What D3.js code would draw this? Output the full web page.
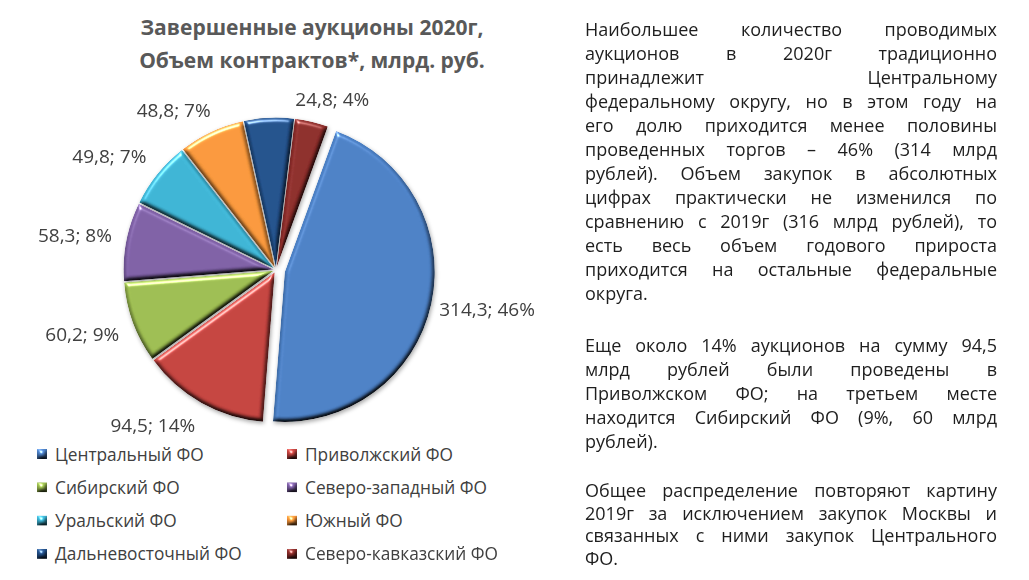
<!DOCTYPE html>
<html><head><meta charset="utf-8">
<script src="https://cdn.jsdelivr.net/npm/d3@7"></script>
<style>body{margin:0;background:#fff;} svg{display:block}</style>
</head><body>
<svg id="c" width="1029" height="580"></svg>
<script>
const categories = ["Центральный ФО","Приволжский ФО","Сибирский ФО","Северо-западный ФО","Уральский ФО","Южный ФО","Дальневосточный ФО","Северо-кавказский ФО"];
const values = [314.3, 94.5, 60.2, 58.3, 49.8, 48.8, 37.0, 24.8];
const labelShown = [true, true, true, true, true, true, false, true];
const colors = ["#4a7ec3","#c2423e","#9bbb4f","#7c5ea3","#3cb2d2","#f7963a","#22508a","#8b2c29"];
const titleLines = ["Завершенные аукционы 2020г,", "Объем контрактов*, млрд. руб."];
const paragraphs = [
  ["Наибольшее количество проводимых",
   "аукционов в 2020г традиционно",
   "принадлежит Центральному",
   "федеральному округу, но в этом году на",
   "его долю приходится менее половины",
   "проведенных торгов – 46% (314 млрд",
   "рублей). Объем закупок в абсолютных",
   "цифрах практически не изменился по",
   "сравнению с 2019г (316 млрд рублей), то",
   "есть весь объем годового прироста",
   "приходится на остальные федеральные",
   "округа."],
  ["Еще около 14% аукционов на сумму 94,5",
   "млрд рублей были проведены в",
   "Приволжском ФО; на третьем месте",
   "находится Сибирский ФО (9%, 60 млрд",
   "рублей)."],
  ["Общее распределение повторяют картину",
   "2019г за исключением закупок Москвы и",
   "связанных с ними закупок Центрального",
   "ФО."]
];

const svg = d3.select("#c");
const defs = svg.append("defs");
defs.html(`
<filter id="bevel" x="-5%" y="-5%" width="110%" height="110%" color-interpolation-filters="sRGB">
  <feGaussianBlur in="SourceAlpha" stdDeviation="2" result="b"/>
  <feDiffuseLighting in="b" surfaceScale="3.5" diffuseConstant="1" lighting-color="#fff" result="d">
    <feDistantLight azimuth="250" elevation="55"/>
  </feDiffuseLighting>
  <feComponentTransfer in="d" result="d2">
    <feFuncR type="linear" slope="1.22"/><feFuncG type="linear" slope="1.22"/><feFuncB type="linear" slope="1.22"/>
  </feComponentTransfer>
  <feComposite in="SourceGraphic" in2="d2" operator="arithmetic" k1="1" k2="0" k3="0" k4="0" result="lit"/>
  <feSpecularLighting in="b" surfaceScale="3.5" specularConstant="0.7" specularExponent="25" lighting-color="#fff" result="s">
    <feDistantLight azimuth="250" elevation="30"/>
  </feSpecularLighting>
  <feComposite in="s" in2="SourceAlpha" operator="in" result="s2"/>
  <feComposite in="lit" in2="s2" operator="arithmetic" k1="0" k2="1" k3="1" k4="0" result="out"/>
  <feComposite in="out" in2="SourceAlpha" operator="in"/>
</filter>
<filter id="shadow" x="-10%" y="-10%" width="120%" height="120%">
  <feGaussianBlur in="SourceAlpha" stdDeviation="2" result="sb"/>
  <feOffset in="sb" dx="1" dy="2" result="so"/>
  <feFlood flood-color="#000" flood-opacity="0.35"/>
  <feComposite in2="so" operator="in" result="sh"/>
  <feMerge><feMergeNode in="sh"/><feMergeNode in="SourceGraphic"/></feMerge>
</filter>`);

// Title
const titleFont = "'Open Sans', sans-serif";
svg.append("g").selectAll("text").data(titleLines).join("text")
  .attr("x", 312).attr("y", (d,i) => 34.5 + i*33)
  .attr("text-anchor","middle")
  .attr("font-family", titleFont).attr("font-weight","bold").attr("font-size", 21)
  .attr("fill","#595959").text(d => d);

// Pie
const cx = 276, cy = 270, r = 150;
const total = d3.sum(values);
const start = 20 * Math.PI / 180;
const pie = d3.pie().sort(null).startAngle(start).endAngle(start + 2*Math.PI);
const arcs = pie(values);
const arc = d3.arc().innerRadius(0).outerRadius(r);
const explode = (i) => i === 0 ? 9 : 2.5;
const g = svg.append("g").attr("transform", `translate(${cx},${cy})`);
const sl = g.append("g").attr("filter","url(#shadow)");
sl.selectAll("path").data(arcs).join("path")
  .attr("transform", (d,i) => {
    const a = (d.startAngle + d.endAngle)/2, e = explode(i);
    return `translate(${Math.sin(a)*e},${-Math.cos(a)*e})`;
  })
  .attr("d", arc)
  .attr("fill", (d,i) => colors[i])
  .attr("filter","url(#bevel)");

// Labels (outside end)
const fmtV = v => d3.format(".1f")(v).replace(".", ",");
const labFont = "'Open Sans', sans-serif";
const lg = g.append("g");
const clamp = v => Math.max(-1, Math.min(1, v));
arcs.forEach((d,i) => {
  if (!labelShown[i]) return;
  const t = lg.append("text")
    .attr("font-family", labFont).attr("font-size", 19).attr("fill","#404040")
    .attr("text-anchor","middle").attr("dominant-baseline","central")
    .text(`${fmtV(d.data)}; ${Math.round(d.data/total*100)}%`);
  const w = t.node().getComputedTextLength(), h = 18;
  const a = (d.startAngle + d.endAngle)/2;
  const dist = r + 17;
  const px = Math.sin(a)*dist, py = -Math.cos(a)*dist;
  t.attr("x", px + w/2*clamp(Math.sin(a)*2)).attr("y", py - h/2*clamp(Math.cos(a)*2));
});

// Legend
const leg = svg.append("g");
categories.forEach((c,i) => {
  const col = i % 2, row = Math.floor(i/2);
  const x = 37 + col*250, y = 454 + row*33.3;
  leg.append("rect").attr("x", x).attr("y", y-5).attr("width", 10).attr("height", 10)
    .attr("fill", colors[i]).attr("filter","url(#bevel)");
  leg.append("text").attr("x", x+18).attr("y", y).attr("dominant-baseline","central")
    .attr("font-family", labFont).attr("font-size", 17.3).attr("fill","#404040").text(c);
});

// Justified text
const tx0 = 585, tx1 = 997, W = tx1 - tx0;
const bodyFont = "'Open Sans', sans-serif";
const paraBase = [36, 351.7, 496.7], paraPitch = [24.0, 24.15, 22.8];
let fs = 18;
const meas = svg.append("text").attr("font-family", bodyFont);
function wordW(s, f){ meas.attr("font-size", f).text(s); return meas.node().getComputedTextLength(); }
for (let k=0;k<40;k++){
  let ok = true;
  paragraphs.forEach(p => p.forEach(ln => { if (wordW(ln, fs) > W) ok = false; }));
  if (ok) break; fs -= 0.25;
}
const tg = svg.append("g").attr("font-family", bodyFont).attr("font-size", fs).attr("fill","#1e1e1e");
paragraphs.forEach((p,pi) => {
  p.forEach((ln,j) => {
    const y = paraBase[pi] + j*paraPitch[pi];
    const words = ln.split(" ");
    const last = j === p.length - 1;
    const ws = words.map(w => wordW(w, fs));
    const sw = wordW("a a", fs) - wordW("aa", fs);
    const gap = (last || words.length < 2) ? sw : (W - d3.sum(ws)) / (words.length - 1);
    let x = tx0;
    words.forEach((w,k) => {
      tg.append("text").attr("x", x).attr("y", y).text(w);
      x += ws[k] + gap;
    });
  });
});
meas.remove();
</script>
</body></html>
